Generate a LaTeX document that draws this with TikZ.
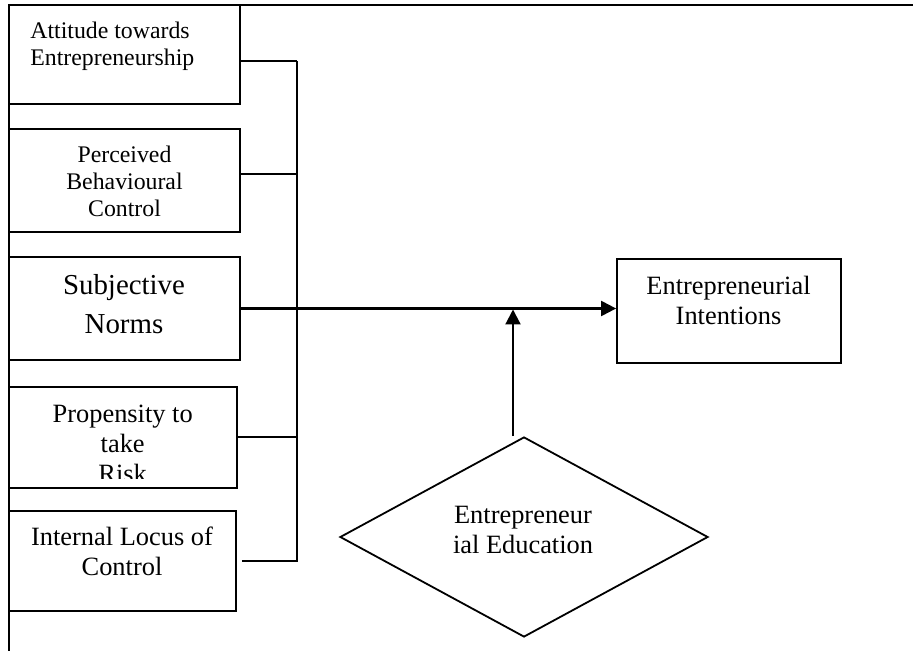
\documentclass[tikz,border=0pt]{standalone}
\usepackage{fontspec}
\setmainfont{Liberation Serif}
\usetikzlibrary{shapes.geometric,arrows.meta}

\tikzset{
  factor/.style={draw, line width=0.9pt, inner sep=0pt},
  link/.style={line width=0.9pt},
  arrow/.style={line width=1.1pt, -{Triangle[length=7.5pt,width=7.5pt]}},
  txtsmall/.style={font=\fontsize{11.9pt}{13.5pt}\selectfont, inner sep=0pt, anchor=base, align=center},
  txtmid/.style={font=\fontsize{13.2pt}{15pt}\selectfont, inner sep=0pt, anchor=base, align=center},
  txtbig/.style={font=\fontsize{14.45pt}{19.2pt}\selectfont, inner sep=0pt, anchor=base, align=center}
}

\begin{document}
\begin{tikzpicture}[x=0.5pt, y=-0.5pt]
    \useasboundingbox (0,0) rectangle (913,651);
    \fill[white] (0,0) rectangle (913,651);

    % frame
    \draw[link] (9,651) -- (9,5) -- (913,5);

    % factor boxes
    \node[factor, minimum width=115.5pt, minimum height=49.5pt] (att) at (124.5,54.5) {};
    \node[factor, minimum width=115.5pt, minimum height=51.5pt] (pbc) at (124.5,180.5) {};
    \node[factor, minimum width=115.5pt, minimum height=51.5pt] (sn) at (124.5,308.5) {};
    \node[factor, minimum width=114pt, minimum height=50.5pt] (risk) at (123,437.5) {};
    \node[factor, minimum width=113.5pt, minimum height=50pt] (loc) at (122.5,561) {};

    \node[factor, minimum width=112pt, minimum height=52pt] (ei) at (729,311) {};
    \node[factor, diamond, minimum width=184pt, minimum height=100pt] (edu) at (524,537) {};

    % texts (anchored at the baseline of the last line)
    \node[txtsmall, align=left, anchor=base west] (att-txt) at (30,65.3) {Attitude towards\\Entrepreneurship};
    \node[txtsmall] (pbc-txt) at (124.5,216.7) {Perceived\\Behavioural\\Control};
    \node[txtbig] (sn-txt) at (124,333.3) {Subjective\\Norms};
    \begin{scope}
        \clip (risk.north west) rectangle (237,478);
        \node[txtmid] (risk-txt) at (122.7,482.7) {Propensity to\\take\\Risk};
    \end{scope}
    \node[txtmid] (loc-txt) at (122,575.7) {Internal Locus of\\Control};
    \node[txtmid] (ei-txt) at (728.5,324.3) {Entrepreneurial\\Intentions};
    \node[txtmid] (edu-txt) at (523,553.3) {Entrepreneur\\ial Education};

    % bracket
    \coordinate (bt) at (297,61);
    \draw[link] ([yshift=-3.25pt]att.east) -| (bt);
    \draw[link] ([yshift=3.25pt]pbc.east) -| (bt);
    \draw[link] ([yshift=0.25pt]risk.east) -| (bt);
    \draw[link] ([xshift=2.5pt]loc.east) -| (bt);

    % arrows
    \coordinate (mod) at (513,309.5);
    \draw[arrow] (sn.east) -- (sn.east -| ei.west);
    \draw[arrow] (edu.north -| mod) -- (mod);
\end{tikzpicture}
\end{document}
